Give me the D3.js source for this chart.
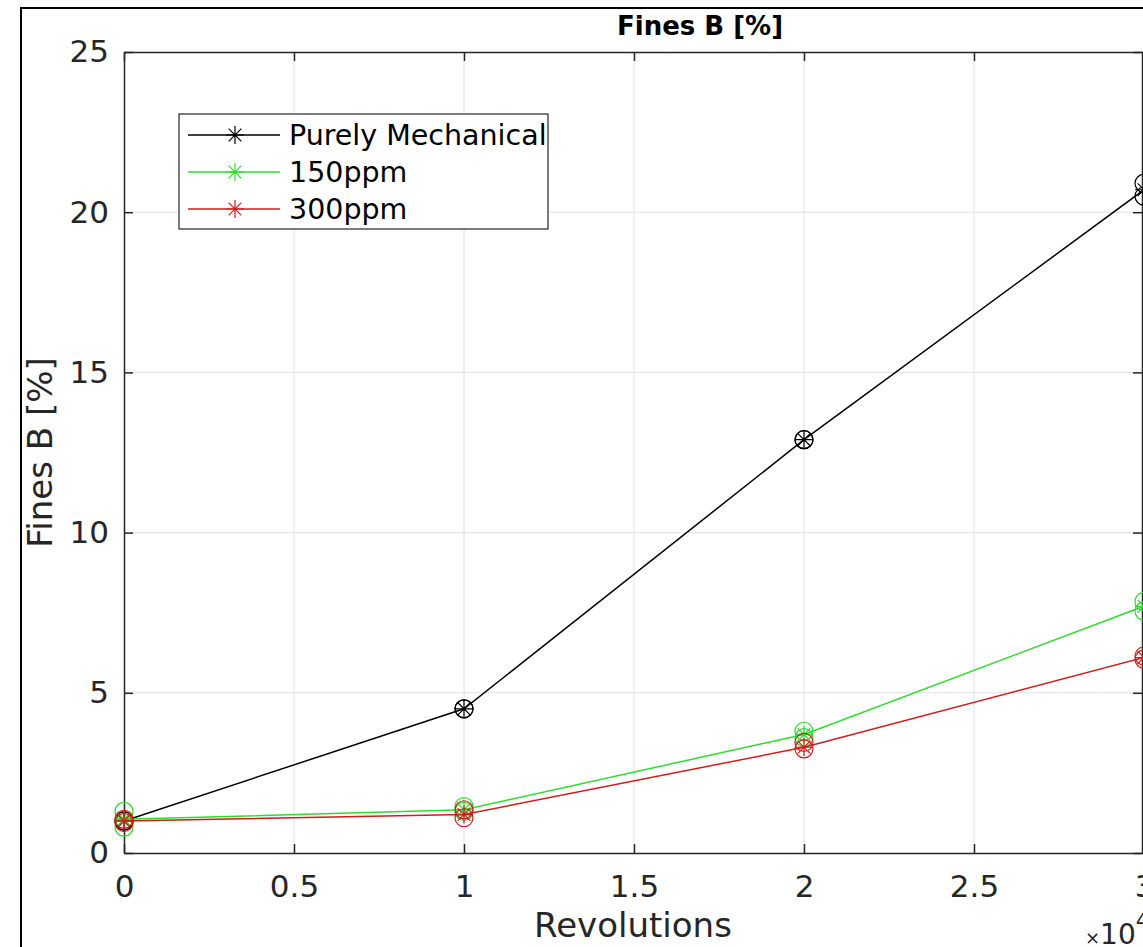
<!DOCTYPE html>
<html>
<head>
<meta charset="utf-8">
<script src="https://cdn.jsdelivr.net/npm/d3@7"></script>
<style>
  body { margin: 0; background: #fff; }
  text { font-family: "DejaVu Sans", sans-serif; }
</style>
</head>
<body>
<div id="plot"></div>
<script>
// chart data
var revolutions = [0, 10000, 20000, 30000];
var seriesNames = ["Purely Mechanical", "150ppm", "300ppm"];
var mechanical = [1.0, 4.5, 12.9, 20.7];
var ppm150 = [1.05, 1.35, 3.7, 7.7];
var ppm300 = [1.0, 1.2, 3.3, 6.1];
// single measurements drawn as circles around each mean
var mechanicalReps = [[1.0, 1.0], [4.5, 4.5], [12.9, 12.9], [20.9, 20.5]];
var ppm150Reps = [[1.3, 0.8], [1.45, 1.3], [3.8, 3.6], [7.85, 7.55]];
var ppm300Reps = [[1.05, 0.95], [1.35, 1.1], [3.45, 3.25], [6.15, 6.05]];
var xTicks = [0, 5000, 10000, 15000, 20000, 25000, 30000];
var xTickLabels = ["0", "0.5", "1", "1.5", "2", "2.5", "3"];
var yTicks = [0, 5, 10, 15, 20, 25];

window.onload = function(){
    buildChart();
};

function buildChart(){

    var W = 1143, H = 947;
    var margin = {left:124, top:52, right:1, bottom:94};
    var width = W - margin.left - margin.right;
    var height = H - margin.top - margin.bottom;

    var xScale = d3.scaleLinear().domain([0, 30000]).range([0, 1020]);
    var yScale = d3.scaleLinear().domain([0, 25]).range([height, 0]);

    var svg = d3.select("#plot").append("svg")
        .attr("width", W).attr("height", H);

    // outer figure border
    svg.append("rect")
        .attr("x", 21).attr("y", 8)
        .attr("width", 1140).attr("height", 960)
        .attr("fill", "none").attr("stroke", "#000").attr("stroke-width", 2);

    var g = svg.append("g")
        .attr("transform", "translate(" + margin.left + "," + margin.top + ")");

    // grid
    g.append("g").selectAll("line").data(xTicks.slice(1)).enter().append("line")
        .attr("x1", d => xScale(d)).attr("x2", d => xScale(d))
        .attr("y1", 0).attr("y2", height)
        .attr("stroke", "#e0e0e0").attr("stroke-width", 1);
    g.append("g").selectAll("line").data(yTicks.slice(1, -1)).enter().append("line")
        .attr("y1", d => yScale(d)).attr("y2", d => yScale(d))
        .attr("x1", 0).attr("x2", width)
        .attr("stroke", "#e0e0e0").attr("stroke-width", 1);

    // axes with inward ticks
    var xAxis = d3.axisBottom(xScale).tickValues(xTicks)
        .tickFormat((d, i) => xTickLabels[i]).tickSizeInner(-9).tickSizeOuter(0).tickPadding(22);
    var xg = g.append("g").attr("transform", "translate(0," + height + ")").call(xAxis);
    var xTop = d3.axisTop(xScale).tickValues(xTicks).tickFormat("").tickSizeInner(-9).tickSizeOuter(0);
    var xtg = g.append("g").call(xTop);
    var yAxis = d3.axisLeft(yScale).tickValues(yTicks).tickSizeInner(-9).tickSizeOuter(0).tickPadding(15);
    var yg = g.append("g").call(yAxis);
    var yRight = d3.axisRight(yScale).tickValues(yTicks).tickFormat("").tickSizeInner(-9).tickSizeOuter(0);
    var yrg = g.append("g").attr("transform", "translate(" + width + ",0)").call(yRight);

    [xg, xtg, yg, yrg].forEach(a => {
        a.select(".domain").attr("stroke", "#262626").attr("stroke-width", 1.5);
        a.selectAll(".tick line").attr("stroke", "#262626").attr("stroke-width", 1.5);
        a.selectAll("text").attr("font-size", 31).attr("fill", "#262626")
            .style("font-family", "DejaVu Sans, sans-serif");
    });

    // series
    var series = [
        {name: seriesNames[0], values: mechanical, reps: mechanicalReps, color: "#000000"},
        {name: seriesNames[1], values: ppm150, reps: ppm150Reps, color: "#2edc2e"},
        {name: seriesNames[2], values: ppm300, reps: ppm300Reps, color: "#d01c1c"}
    ];

    var line = d3.line().x((d, i) => xScale(revolutions[i])).y(d => yScale(d));

    series.forEach(s => {

        var sg = g.append("g");

        sg.append("path").datum(s.values)
            .attr("d", line).attr("fill", "none")
            .attr("stroke", s.color).attr("stroke-width", 1.5);

        s.reps.forEach((r, i) => {
            sg.selectAll(null).data(r).enter().append("circle")
                .attr("cx", xScale(revolutions[i]))
                .attr("cy", d => yScale(d))
                .attr("r", 9)
                .attr("fill", "none").attr("stroke", s.color).attr("stroke-width", 1.2);
        });

        sg.selectAll(".star").data(s.values).enter().append("path")
            .attr("transform", (d, i) => "translate(" + xScale(revolutions[i]) + "," + yScale(d) + ")")
            .attr("d", star(9))
            .attr("fill", "none").attr("stroke", s.color).attr("stroke-width", 1.2);
    });

    // title and labels
    svg.append("text").attr("x", 700).attr("y", 35)
        .attr("text-anchor", "middle").attr("font-size", 26).attr("font-weight", "bold")
        .attr("fill", "#000").text("Fines B [%]");

    svg.append("text").attr("x", 633).attr("y", 937)
        .attr("text-anchor", "middle").attr("font-size", 34).attr("fill", "#262626")
        .text("Revolutions");

    svg.append("text")
        .attr("transform", "translate(52," + (margin.top + height / 2) + ") rotate(-90)")
        .attr("text-anchor", "middle").attr("font-size", 34).attr("fill", "#262626")
        .text("Fines B [%]");

    var exp = svg.append("text").attr("x", 1085).attr("y", 944)
        .attr("font-size", 28).attr("fill", "#262626");
    exp.append("tspan").attr("font-size", 18).text("\u00d7");
    exp.append("tspan").text("10");
    exp.append("tspan").attr("dy", -16).attr("font-size", 21).text("4");

    // legend
    var lg = svg.append("g").attr("transform", "translate(179,114)");
    lg.append("rect").attr("width", 369).attr("height", 115)
        .attr("fill", "#fff").attr("stroke", "#262626").attr("stroke-width", 1.2);

    series.forEach((s, i) => {
        var yy = 21 + i * 37;
        lg.append("line").attr("x1", 9).attr("x2", 101).attr("y1", yy).attr("y2", yy)
            .attr("stroke", s.color).attr("stroke-width", 1.5);
        lg.append("path").attr("transform", "translate(56," + yy + ")")
            .attr("d", star(9)).attr("fill", "none").attr("stroke", s.color).attr("stroke-width", 1.2);
        lg.append("text").attr("x", 110).attr("y", yy + 10)
            .attr("font-size", 28.5).attr("fill", "#000").text(s.name);
    });

}

function star(r){
    var d = "";
    for (var k = 0; k < 4; k++) {
        var a = k * Math.PI / 4 + Math.PI / 2;
        var dx = r * Math.cos(a), dy = r * Math.sin(a);
        d += "M" + (-dx) + "," + (-dy) + "L" + dx + "," + dy;
    }
    return d;
}
</script>
</body>
</html>
